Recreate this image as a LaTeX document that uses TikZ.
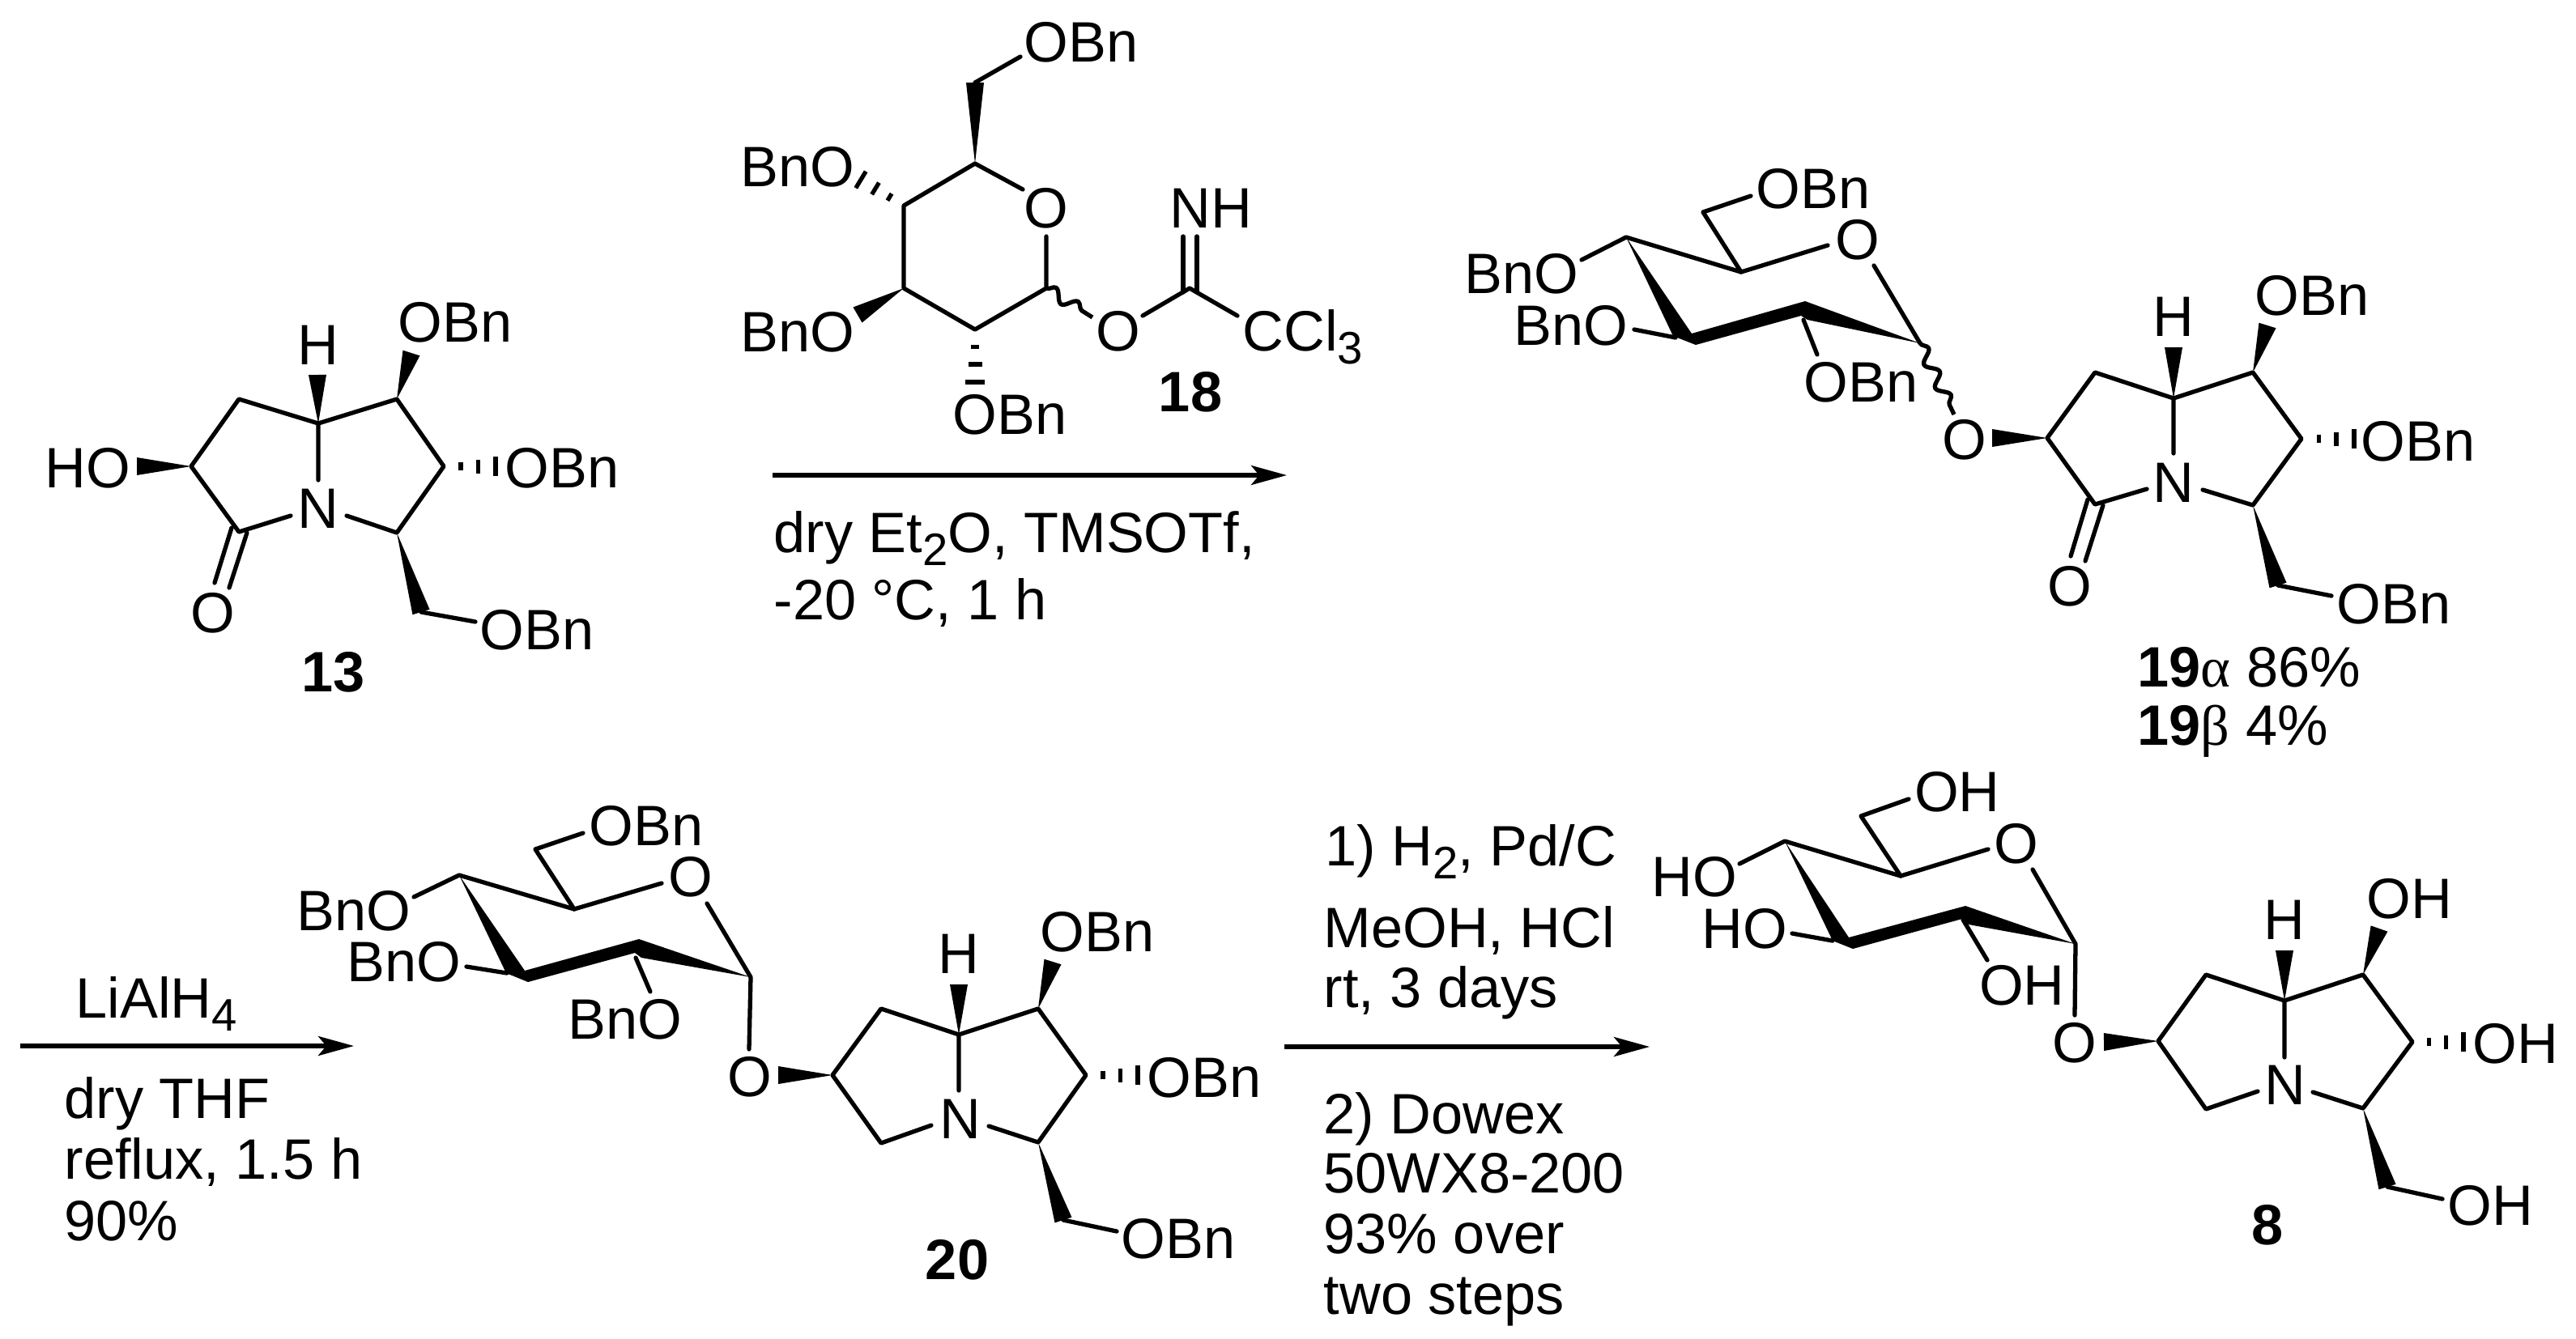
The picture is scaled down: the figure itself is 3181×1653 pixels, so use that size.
\documentclass[tikz,border=0pt]{standalone}
\usepackage{fontspec}
\usepackage{amsmath}
\usetikzlibrary{arrows.meta}
\usetikzlibrary{calc}
\usetikzlibrary{decorations.pathmorphing}
\setmainfont{Liberation Sans}
\newfontfamily\greekfont{Liberation Serif}
\newcommand{\subs}[1]{\raisebox{-4.8pt}{\fontsize{16}{16}\selectfont #1}}
\newcommand{\wdgbond}[2]{\fill ($(#2)!0.11cm!90:(#1)$) -- (#1) -- ($(#2)!0.11cm!-90:(#1)$) -- cycle;}
\newcommand{\hashbond}[2]{\foreach \pos/\hw in {0.33/0.05cm,0.66/0.085cm,1/0.12cm}
    \draw[hash] ($(#1)!\pos!(#2)!\hw!90:(#1)$) -- ($(#1)!\pos!(#2)!\hw!-90:(#1)$);}
\tikzset{
    bond/.style={line width=1.5pt,line cap=round,line join=round},
    hash/.style={line width=1.5pt},
    wave/.style={line width=1.5pt,decorate,decoration={snake,amplitude=0.07cm,segment length=0.32cm}},
    rxnarrow/.style={line width=1.5pt,-{Stealth[length=0.44cm,width=0.24cm,inset=0.1cm]}},
    atom/.style={inner sep=0pt,font=\fontsize{20}{20}\selectfont},
    cmpd/.style={inner sep=0pt,font=\fontsize{20}{20}\selectfont\bfseries},
    reagent/.style={inner sep=0pt,anchor=base west,font=\fontsize{20}{20}\selectfont},
}
\begin{document}
\begin{tikzpicture}[x=0.01cm,y=-0.01cm]
    \useasboundingbox (0,0) rectangle (3181,1653);

    % compound 13
    \coordinate (ma) at (393,523);
    \coordinate (mb) at (295,493);
    \coordinate (mc) at (236,576);
    \coordinate (md) at (295,657);
    \coordinate (me) at (490,493);
    \coordinate (mf) at (548,576);
    \coordinate (mg) at (490,658);
    \coordinate (mh) at (393,593);
    \coordinate (mi) at (359,637);
    \coordinate (mj) at (428,637);
    \coordinate (mk) at (392,463);
    \coordinate (ml) at (508,436);
    \coordinate (mm) at (169,576);
    \coordinate (mn) at (612,576);
    \coordinate (mo) at (520,756);
    \coordinate (mp) at (587,768);

    \draw[bond] (mh) -- (ma) -- (mb) -- (mc) -- (md) -- (mi);
    \draw[bond] (ma) -- (me) -- (mf) -- (mg) -- (mj);
    \draw[bond] (286,652) -- (265,720);
    \draw[bond] (305,658) -- (283,726);
    \draw[bond] (mo) -- (mp);
    \wdgbond{ma}{mk}
    \wdgbond{me}{ml}
    \wdgbond{mc}{mm}
    \wdgbond{mg}{mo}
    \hashbond{mf}{mn}

    \node[atom] (mH)   at (393,426) {H};
    \node[atom] (mN)   at (393,628) {N};
    \node[atom] (mOH)  at (108,578) {HO};
    \node[atom] (mCO)  at (263,757) {O};
    \node[atom] (mOBa) at (562,398) {OBn};
    \node[atom] (mOBb) at (694,578) {OBn};
    \node[atom] (mOBc) at (663,778) {OBn};
    \node[cmpd] (mlab) at (412,830) {13};

    % donor 18
    \coordinate (da) at (1204,202);
    \coordinate (db) at (1263,234);
    \coordinate (dc) at (1292,292);
    \coordinate (dd) at (1292,356);
    \coordinate (de) at (1204,407);
    \coordinate (df) at (1116,356);
    \coordinate (dg) at (1116,254);
    \coordinate (dh) at (1204,102);
    \coordinate (di) at (1260,70);
    \coordinate (dj) at (1063,222);
    \coordinate (dk) at (1059,389);
    \coordinate (dl) at (1204,472);
    \coordinate (dm) at (1349,392);
    \coordinate (dn) at (1411,390);
    \coordinate (dp) at (1469,356);
    \coordinate (dq) at (1528,390);

    \draw[bond] (db) -- (da) -- (dg) -- (df) -- (de) -- (dd) -- (dc);
    \draw[bond] (dh) -- (di);
    \draw[bond] (dn) -- (dp) -- (dq);
    \draw[bond] (1461,292) -- (1461,361);
    \draw[bond] (1478,292) -- (1478,361);
    \draw[wave] (dd) -- (dm);
    \wdgbond{da}{dh}
    \wdgbond{df}{dk}
    \hashbond{dg}{dj}
    \hashbond{de}{dl}

    \node[atom] (dOa)  at (1292,257) {O};
    \node[atom] (dOb)  at (1381,409) {O};
    \node[atom] (dNH)  at (1495,257) {NH};
    \node[atom] (dOBa) at (1335,52) {OBn};
    \node[atom] (dOBb) at (985,206) {BnO};
    \node[atom] (dOBc) at (985,410) {BnO};
    \node[atom] (dOBd) at (1247,512) {OBn};
    \node[reagent] (dCCl) at (1534,433) {CCl\subs{3}};
    \node[cmpd] (dlab) at (1470,484) {18};

    % first arrow
    \coordinate (ra) at (954,587);
    \coordinate (rb) at (1589,587);
    \draw[rxnarrow] (ra) -- (rb);
    \node[reagent] (rta) at (955,682) {dry Et\subs{2}O, TMSOTf,};
    \node[reagent] (rtb) at (955,765) {-20 °C, 1 h};

    % product 19, sugar part
    \coordinate (sa) at (2150,336);
    \coordinate (sb) at (2257,303);
    \coordinate (sc) at (2314,328);
    \coordinate (sd) at (2371,424);
    \coordinate (se) at (2008,293);
    \coordinate (sf) at (1953,321);
    \coordinate (sg) at (2103,262);
    \coordinate (sh) at (2162,242);
    \coordinate (si) at (2018,407);
    \coordinate (sj) at (2069,417);
    \coordinate (sk) at (2227,395);
    \coordinate (sl) at (2244,438);
    \coordinate (sm) at (2413,512);

    \draw[bond] (sb) -- (sa) -- (se) -- (sf);
    \draw[bond] (sa) -- (sg) -- (sh);
    \draw[bond] (sc) -- (sd);
    \draw[bond] (si) -- (sj);
    \draw[bond] (sk) -- (sl);
    \draw[wave] (sd) -- (sm);
    \fill (se) -- (2089,412) -- (2229,372) -- (sd) -- (2232,395) -- (2224,390) -- (2094,426) -- (2066,415) -- cycle;

    \node[atom] (sO)   at (2294,296) {O};
    \node[atom] (sOBa) at (2239,233) {OBn};
    \node[atom] (sOBb) at (1879,338) {BnO};
    \node[atom] (sOBc) at (1940,402) {BnO};
    \node[atom] (sOBd) at (2298,472) {OBn};
    \node[atom] (sOl)  at (2426,543) {O};

    % product 19, bicycle
    \coordinate (pa) at (2684,492);
    \coordinate (pb) at (2587,460);
    \coordinate (pc) at (2528,541);
    \coordinate (pd) at (2587,623);
    \coordinate (pe) at (2782,460);
    \coordinate (pf) at (2842,542);
    \coordinate (pg) at (2782,624);
    \coordinate (ph) at (2684,560);
    \coordinate (pi) at (2651,604);
    \coordinate (pj) at (2720,605);
    \coordinate (pk) at (2684,429);
    \coordinate (pl) at (2800,402);
    \coordinate (pm) at (2460,541);
    \coordinate (pn) at (2907,542);
    \coordinate (po) at (2813,723);
    \coordinate (pp) at (2879,736);

    \draw[bond] (ph) -- (pa) -- (pb) -- (pc) -- (pd) -- (pi);
    \draw[bond] (pa) -- (pe) -- (pf) -- (pg) -- (pj);
    \draw[bond] (2578,617) -- (2557,687);
    \draw[bond] (2597,624) -- (2575,693);
    \draw[bond] (po) -- (pp);
    \wdgbond{pa}{pk}
    \wdgbond{pe}{pl}
    \wdgbond{pc}{pm}
    \wdgbond{pg}{po}
    \hashbond{pf}{pn}

    \node[atom] (pH)   at (2684,391) {H};
    \node[atom] (pN)   at (2684,596) {N};
    \node[atom] (pCO)  at (2556,724) {O};
    \node[atom] (pOBa) at (2855,365) {OBn};
    \node[atom] (pOBb) at (2986,545) {OBn};
    \node[atom] (pOBc) at (2956,746) {OBn};
    \node[reagent] (plaba) at (2639,848) {\textbf{19}{\greekfont α} 86\%};
    \node[reagent] (plabb) at (2639,920) {\textbf{19}{\greekfont β} 4\%};

    % second arrow
    \coordinate (qa) at (25,1292);
    \coordinate (qb) at (437,1292);
    \draw[rxnarrow] (qa) -- (qb);
    \node[reagent] (qta) at (93,1257) {LiAlH\subs{4}};
    \node[reagent] (qtb) at (79,1381) {dry THF};
    \node[reagent] (qtc) at (79,1456) {reflux, 1.5 h};
    \node[reagent] (qtd) at (79,1532) {90\%};

    % compound 20, sugar part
    \coordinate (ta) at (709,1123);
    \coordinate (tb) at (817,1091);
    \coordinate (tc) at (873,1116);
    \coordinate (td) at (927,1207);
    \coordinate (te) at (567,1081);
    \coordinate (tf) at (511,1108);
    \coordinate (tg) at (661,1049);
    \coordinate (th) at (720,1029);
    \coordinate (ti) at (576,1194);
    \coordinate (tj) at (626,1202);
    \coordinate (tk) at (785,1183);
    \coordinate (tl) at (803,1225);
    \coordinate (tm) at (925,1296);

    \draw[bond] (tb) -- (ta) -- (te) -- (tf);
    \draw[bond] (ta) -- (tg) -- (th);
    \draw[bond] (tc) -- (td) -- (tm);
    \draw[bond] (ti) -- (tj);
    \draw[bond] (tk) -- (tl);
    \fill (te) -- (648,1199) -- (789,1160) -- (td) -- (792,1183) -- (784,1177) -- (652,1213) -- (625,1202) -- cycle;

    \node[atom] (tO)   at (853,1083) {O};
    \node[atom] (tOBa) at (798,1020) {OBn};
    \node[atom] (tOBb) at (437,1125) {BnO};
    \node[atom] (tOBc) at (499,1188) {BnO};
    \node[atom] (tOBd) at (772,1259) {BnO};
    \node[atom] (tOl)  at (926,1330) {O};

    % compound 20, bicycle
    \coordinate (ua) at (1184,1278);
    \coordinate (ub) at (1088,1246);
    \coordinate (uc) at (1028,1328);
    \coordinate (ud) at (1088,1412);
    \coordinate (ue) at (1282,1246);
    \coordinate (uf) at (1341,1328);
    \coordinate (ug) at (1282,1411);
    \coordinate (uh) at (1184,1347);
    \coordinate (ui) at (1150,1390);
    \coordinate (uj) at (1221,1391);
    \coordinate (uk) at (1184,1216);
    \coordinate (ul) at (1300,1188);
    \coordinate (um) at (961,1328);
    \coordinate (un) at (1405,1328);
    \coordinate (uo) at (1313,1507);
    \coordinate (up) at (1379,1521);

    \draw[bond] (uh) -- (ua) -- (ub) -- (uc) -- (ud) -- (ui);
    \draw[bond] (ua) -- (ue) -- (uf) -- (ug) -- (uj);
    \draw[bond] (uo) -- (up);
    \wdgbond{ua}{uk}
    \wdgbond{ue}{ul}
    \wdgbond{uc}{um}
    \wdgbond{ug}{uo}
    \hashbond{uf}{un}

    \node[atom] (uH)   at (1184,1178) {H};
    \node[atom] (uN)   at (1186,1382) {N};
    \node[atom] (uOBa) at (1355,1151) {OBn};
    \node[atom] (uOBb) at (1487,1331) {OBn};
    \node[atom] (uOBc) at (1455,1530) {OBn};
    \node[cmpd] (ulab) at (1182,1556) {20};

    % third arrow
    \coordinate (va) at (1586,1293);
    \coordinate (vb) at (2037,1293);
    \draw[rxnarrow] (va) -- (vb);
    \node[reagent] (vta) at (1636,1069) {1) H\subs{2}, Pd/C};
    \node[reagent] (vtb) at (1634,1170) {MeOH, HCl};
    \node[reagent] (vtc) at (1634,1244) {rt, 3 days};
    \node[reagent] (vtd) at (1634,1400) {2) Dowex};
    \node[reagent] (vte) at (1634,1473) {50WX8-200};
    \node[reagent] (vtf) at (1634,1548) {93\% over};
    \node[reagent] (vtg) at (1634,1623) {two steps};

    % compound 8, sugar part
    \coordinate (wa) at (2347,1082);
    \coordinate (wb) at (2455,1049);
    \coordinate (wc) at (2510,1074);
    \coordinate (wd) at (2563,1166);
    \coordinate (we) at (2204,1039);
    \coordinate (wf) at (2148,1067);
    \coordinate (wg) at (2298,1008);
    \coordinate (wh) at (2357,987);
    \coordinate (wi) at (2213,1153);
    \coordinate (wj) at (2263,1162);
    \coordinate (wk) at (2424,1136);
    \coordinate (wl) at (2454,1186);
    \coordinate (wm) at (2562,1254);

    \draw[bond] (wb) -- (wa) -- (we) -- (wf);
    \draw[bond] (wa) -- (wg) -- (wh);
    \draw[bond] (wc) -- (wd) -- (wm);
    \draw[bond] (wi) -- (wj);
    \draw[bond] (wk) -- (wl);
    \fill (we) -- (2283,1158) -- (2427,1119) -- (wd) -- (2431,1142) -- (2423,1135) -- (2288,1172) -- (2263,1162) -- cycle;

    \node[atom] (wO)   at (2490,1042) {O};
    \node[atom] (wOHa) at (2417,978) {OH};
    \node[atom] (wOHb) at (2092,1083) {HO};
    \node[atom] (wOHc) at (2154,1147) {HO};
    \node[atom] (wOHd) at (2497,1217) {OH};
    \node[atom] (wOl)  at (2562,1288) {O};

    % compound 8, bicycle
    \coordinate (xa) at (2821,1236);
    \coordinate (xb) at (2724,1204);
    \coordinate (xc) at (2665,1286);
    \coordinate (xd) at (2724,1370);
    \coordinate (xe) at (2918,1204);
    \coordinate (xf) at (2979,1287);
    \coordinate (xg) at (2918,1369);
    \coordinate (xh) at (2821,1306);
    \coordinate (xi) at (2788,1348);
    \coordinate (xj) at (2856,1349);
    \coordinate (xk) at (2821,1174);
    \coordinate (xl) at (2938,1147);
    \coordinate (xm) at (2598,1287);
    \coordinate (xn) at (3042,1287);
    \coordinate (xo) at (2948,1466);
    \coordinate (xp) at (3016,1481);

    \draw[bond] (xh) -- (xa) -- (xb) -- (xc) -- (xd) -- (xi);
    \draw[bond] (xa) -- (xe) -- (xf) -- (xg) -- (xj);
    \draw[bond] (xo) -- (xp);
    \wdgbond{xa}{xk}
    \wdgbond{xe}{xl}
    \wdgbond{xc}{xm}
    \wdgbond{xg}{xo}
    \hashbond{xf}{xn}

    \node[atom] (xH)   at (2821,1136) {H};
    \node[atom] (xN)   at (2822,1340) {N};
    \node[atom] (xOHa) at (2975,1110) {OH};
    \node[atom] (xOHb) at (3106,1289) {OH};
    \node[atom] (xOHc) at (3075,1489) {OH};
    \node[cmpd] (xlab) at (2800,1513) {8};
\end{tikzpicture}
\end{document}
